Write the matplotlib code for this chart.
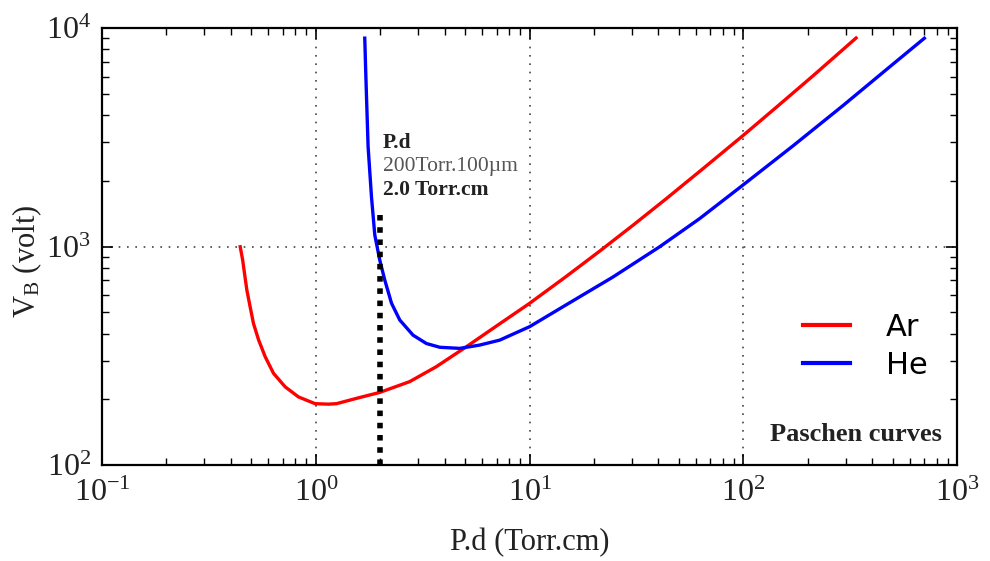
import numpy as np
import matplotlib
matplotlib.use('Agg')
import matplotlib.pyplot as plt
from matplotlib.ticker import LogLocator, FuncFormatter, NullFormatter

plt.rcParams['font.family'] = 'Liberation Serif'
plt.rcParams['mathtext.fontset'] = 'custom'
plt.rcParams['mathtext.rm'] = 'Liberation Serif'
plt.rcParams['mathtext.it'] = 'Liberation Serif:italic'
plt.rcParams['mathtext.bf'] = 'Liberation Serif:bold'

# Paschen curves: P.d (Torr.cm) vs breakdown voltage (volt)
ar_pd = [0.443, 0.455, 0.464, 0.476, 0.493, 0.511, 0.540, 0.580, 0.634, 0.719,
         0.830, 0.992, 1.146, 1.25, 1.55, 1.99, 2.75, 3.66, 5.06, 6.5, 7.24,
         10, 14.8, 21.2, 30.4, 43.5, 64.6, 99.3, 142, 211, 336]
ar_vb = [998, 867, 754, 632, 530, 445, 374, 313, 263, 228,
         205, 191, 190, 191, 202, 215, 241, 282, 348, 412, 443,
         550, 729, 951, 1251, 1655, 2271, 3216, 4329, 6035, 9000]

he_pd = [1.694, 1.709, 1.726, 1.756, 1.821, 1.887, 1.991, 2.101, 2.26, 2.47,
         2.85, 3.29, 3.80, 4.71, 5.83, 7.24, 10, 14.3, 24.5, 40.5, 62.2, 99.3,
         170, 291, 499, 701]
he_vb = [8990, 6640, 4853, 2865, 1690, 1130, 867, 703, 550, 461,
         393, 360, 346, 342, 354, 373, 430, 530, 725, 997, 1340, 1910,
         2884, 4406, 6825, 8980]

pd_mark = 2.0          # Torr.cm (200 Torr x 100 um)
vb_mark = [100, 1390]  # extent of the marker line

fig = plt.figure(figsize=(9.9, 5.61), dpi=100)
ax = fig.add_axes([0.103, 0.171, 0.864, 0.779])

ax.plot(ar_pd, ar_vb, color='#ff0000', lw=2.4, label='Ar')
ax.plot(he_pd, he_vb, color='#0000ff', lw=2.4, label='He')
ax.plot([pd_mark, pd_mark], vb_mark, color='black', lw=4, linestyle=(0, (1, 1.2)))

ax.set_xscale('log')
ax.set_yscale('log')
ax.set_xlim(0.1, 1000)
ax.set_ylim(100, 10000)

sup = FuncFormatter(lambda v, p: r'$\mathregular{10^{%d}}$' % int(round(np.log10(v))))
ax.xaxis.set_major_locator(LogLocator(base=10, numticks=10))
ax.yaxis.set_major_locator(LogLocator(base=10, numticks=10))
ax.xaxis.set_minor_locator(LogLocator(base=10, subs=np.arange(2, 10), numticks=20))
ax.yaxis.set_minor_locator(LogLocator(base=10, subs=np.arange(2, 10), numticks=20))
ax.xaxis.set_major_formatter(sup)
ax.yaxis.set_major_formatter(sup)
ax.xaxis.set_minor_formatter(NullFormatter())
ax.yaxis.set_minor_formatter(NullFormatter())

ax.tick_params(which='both', direction='in', top=True, right=True,
               labelsize=23, colors='black', labelcolor='#222222')
ax.tick_params(which='major', length=8, width=1.2)
ax.tick_params(which='minor', length=5, width=1.0)
ax.tick_params(axis='x', pad=10)
ax.tick_params(axis='y', pad=8)
for s in ax.spines.values():
    s.set_linewidth(1.6)

ax.grid(True, which='major', linestyle=(0, (1, 4)), color='#444444', lw=1.2)

ax.set_xlabel('P.d (Torr.cm)', fontsize=22, color='#222222')
ax.set_ylabel(r'V$_\mathregular{B}$ (volt)', fontsize=22, color='#222222')
ax.yaxis.set_label_coords(-0.068, 0.465)
ax.xaxis.set_label_coords(0.5, -0.145)

ax.text(2.06, 2980, 'P.d', fontsize=15.5, fontweight='bold', color='#222222', va='center')
ax.text(2.06, 2330, '200Torr.100\u00b5m', fontsize=15.5, color='#555555', va='center')
ax.text(2.06, 1815, '2.0 Torr.cm', fontsize=15.5, fontweight='bold', color='#222222', va='center')

ax.text(0.881, 0.069, 'Paschen curves', transform=ax.transAxes, fontsize=19,
        fontweight='bold', color='#222222', ha='center', va='center')

leg = ax.legend(loc='center left', bbox_to_anchor=(0.819, 0.272), frameon=False,
                prop={'family': 'DejaVu Sans', 'size': 22}, handlelength=1.57,
                handletextpad=1.15, labelspacing=0.3, borderpad=0, borderaxespad=0)
for line in leg.get_lines():
    line.set_linewidth(3)

fig.savefig('out.png', dpi=100)
